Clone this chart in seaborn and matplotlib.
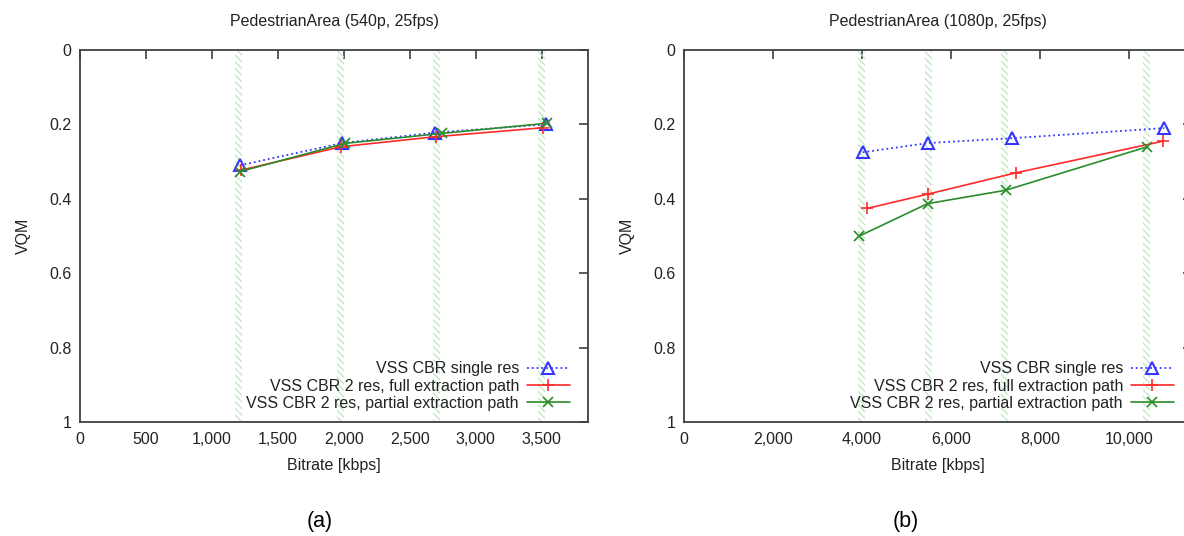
import matplotlib
matplotlib.use("Agg")
import matplotlib.pyplot as plt
from matplotlib.ticker import FuncFormatter, MultipleLocator
import numpy as np
import pandas as pd
import seaborn as sns

# --- data -------------------------------------------------------------
series_labels = [
    "VSS CBR single res",
    "VSS CBR 2 res, full extraction path",
    "VSS CBR 2 res, partial extraction path",
]

# 540p panel
bitrate_540_single = [1211, 1988, 2689, 3529]
vqm_540_single = [0.310, 0.250, 0.222, 0.200]
bitrate_540_full = [1220, 1979, 2698, 3509]
vqm_540_full = [0.323, 0.260, 0.233, 0.209]
bitrate_540_partial = [1211, 2008, 2747, 3538]
vqm_540_partial = [0.327, 0.251, 0.224, 0.197]
targets_540 = [1200, 1975, 2700, 3500]

# 1080p panel
bitrate_1080_single = [4018, 5495, 7383, 10797]
vqm_1080_single = [0.275, 0.250, 0.237, 0.210]
bitrate_1080_full = [4111, 5495, 7466, 10772]
vqm_1080_full = [0.426, 0.387, 0.330, 0.245]
bitrate_1080_partial = [3943, 5478, 7232, 10419]
vqm_1080_partial = [0.500, 0.413, 0.377, 0.260]
targets_1080 = [4000, 5500, 7200, 10400]

titles = ["PedestrianArea (540p, 25fps)", "PedestrianArea (1080p, 25fps)"]
panel_tags = ["(a)", "(b)"]

# --- style ------------------------------------------------------------
sns.set_theme(style="white")
plt.rcParams["font.family"] = ["Liberation Sans", "DejaVu Sans"]
plt.rcParams["hatch.linewidth"] = 0.9

FS = 11.5
TEXT = "#222222"
SPINE = "#404040"
BLUE = "#3535ff"
RED = "#ff2a2a"
GREEN = "#2a8c2a"
HATCH = "#bde8bd"

W, H = 1184, 536
fig = plt.figure(figsize=(W / 100, H / 100), dpi=100)

AXW_PX, AXH_PX = 508, 372
ax_w = AXW_PX / W
ax_h = AXH_PX / H
ax_b = (H - 422) / H
axes = [
    fig.add_axes([80 / W, ax_b, ax_w, ax_h]),
    fig.add_axes([684 / W, ax_b, ax_w, ax_h]),
]

panels = [
    dict(
        xs=[bitrate_540_single, bitrate_540_full, bitrate_540_partial],
        ys=[vqm_540_single, vqm_540_full, vqm_540_partial],
        targets=targets_540, xmax=3850, xstep=500,
    ),
    dict(
        xs=[bitrate_1080_single, bitrate_1080_full, bitrate_1080_partial],
        ys=[vqm_1080_single, vqm_1080_full, vqm_1080_partial],
        targets=targets_1080, xmax=11420, xstep=2000,
    ),
]

line_styles = [
    dict(color=BLUE, linestyle=":", linewidth=1.3, marker="^", markersize=9,
         markerfacecolor="none", markeredgecolor=BLUE, markeredgewidth=1.5),
    dict(color=RED, linestyle="-", linewidth=1.2, marker="+", markersize=9,
         markeredgecolor=RED, markeredgewidth=1.2),
    dict(color=GREEN, linestyle="-", linewidth=1.2, marker="x", markersize=7,
         markeredgecolor=GREEN, markeredgewidth=1.2),
]

for ax, p, title, tag in zip(axes, panels, titles, panel_tags):
    ax.set_xlim(0, p["xmax"])
    ax.set_ylim(1, 0)

    # hatched target-rate bands, about 7 px wide
    half = 3.5 / AXW_PX * p["xmax"]
    for t in p["targets"]:
        ax.axvspan(t - half, t + half, facecolor="none", edgecolor=HATCH,
                   hatch="\\\\\\\\\\", linewidth=0, zorder=1)

    for xs, ys, lab, st in zip(p["xs"], p["ys"], series_labels, line_styles):
        df = pd.DataFrame({"bitrate": xs, "vqm": ys})
        sns.lineplot(data=df, x="bitrate", y="vqm", ax=ax, sort=False,
                     estimator=None, label=lab, zorder=3, **st)

    ax.xaxis.set_major_locator(MultipleLocator(p["xstep"]))
    ax.yaxis.set_major_locator(MultipleLocator(0.2))
    ax.xaxis.set_major_formatter(FuncFormatter(lambda v, _: f"{v:,.0f}"))
    ax.yaxis.set_major_formatter(FuncFormatter(lambda v, _: f"{v:g}"))
    ax.tick_params(direction="in", length=6.5, width=1.2, color=SPINE,
                   top=True, right=True, labelsize=FS, labelcolor=TEXT)
    ax.tick_params(axis="x", pad=7)
    ax.tick_params(axis="y", pad=6)
    for s in ax.spines.values():
        s.set_color(SPINE)
        s.set_linewidth(1.3)

    ax.set_title(title, fontsize=FS, color=TEXT, pad=17)
    ax.set_xlabel("Bitrate [kbps]", fontsize=FS, color=TEXT, labelpad=8)
    ax.set_ylabel("VQM", fontsize=FS, color=TEXT, labelpad=13)

    ax.legend(loc="lower right", frameon=False, markerfirst=False,
              fontsize=FS, handlelength=2.7, handletextpad=0.5,
              labelspacing=0.15, borderpad=0, borderaxespad=0,
              bbox_to_anchor=(1 - 18 / AXW_PX, 11 / AXH_PX),
              labelcolor=TEXT)

fig.text(320 / W, 1 - 521 / H, panel_tags[0], fontsize=15.5, color="black",
         ha="center", va="center")
fig.text(906 / W, 1 - 521 / H, panel_tags[1], fontsize=15.5, color="black",
         ha="center", va="center")

fig.savefig("out.png", dpi=100)
